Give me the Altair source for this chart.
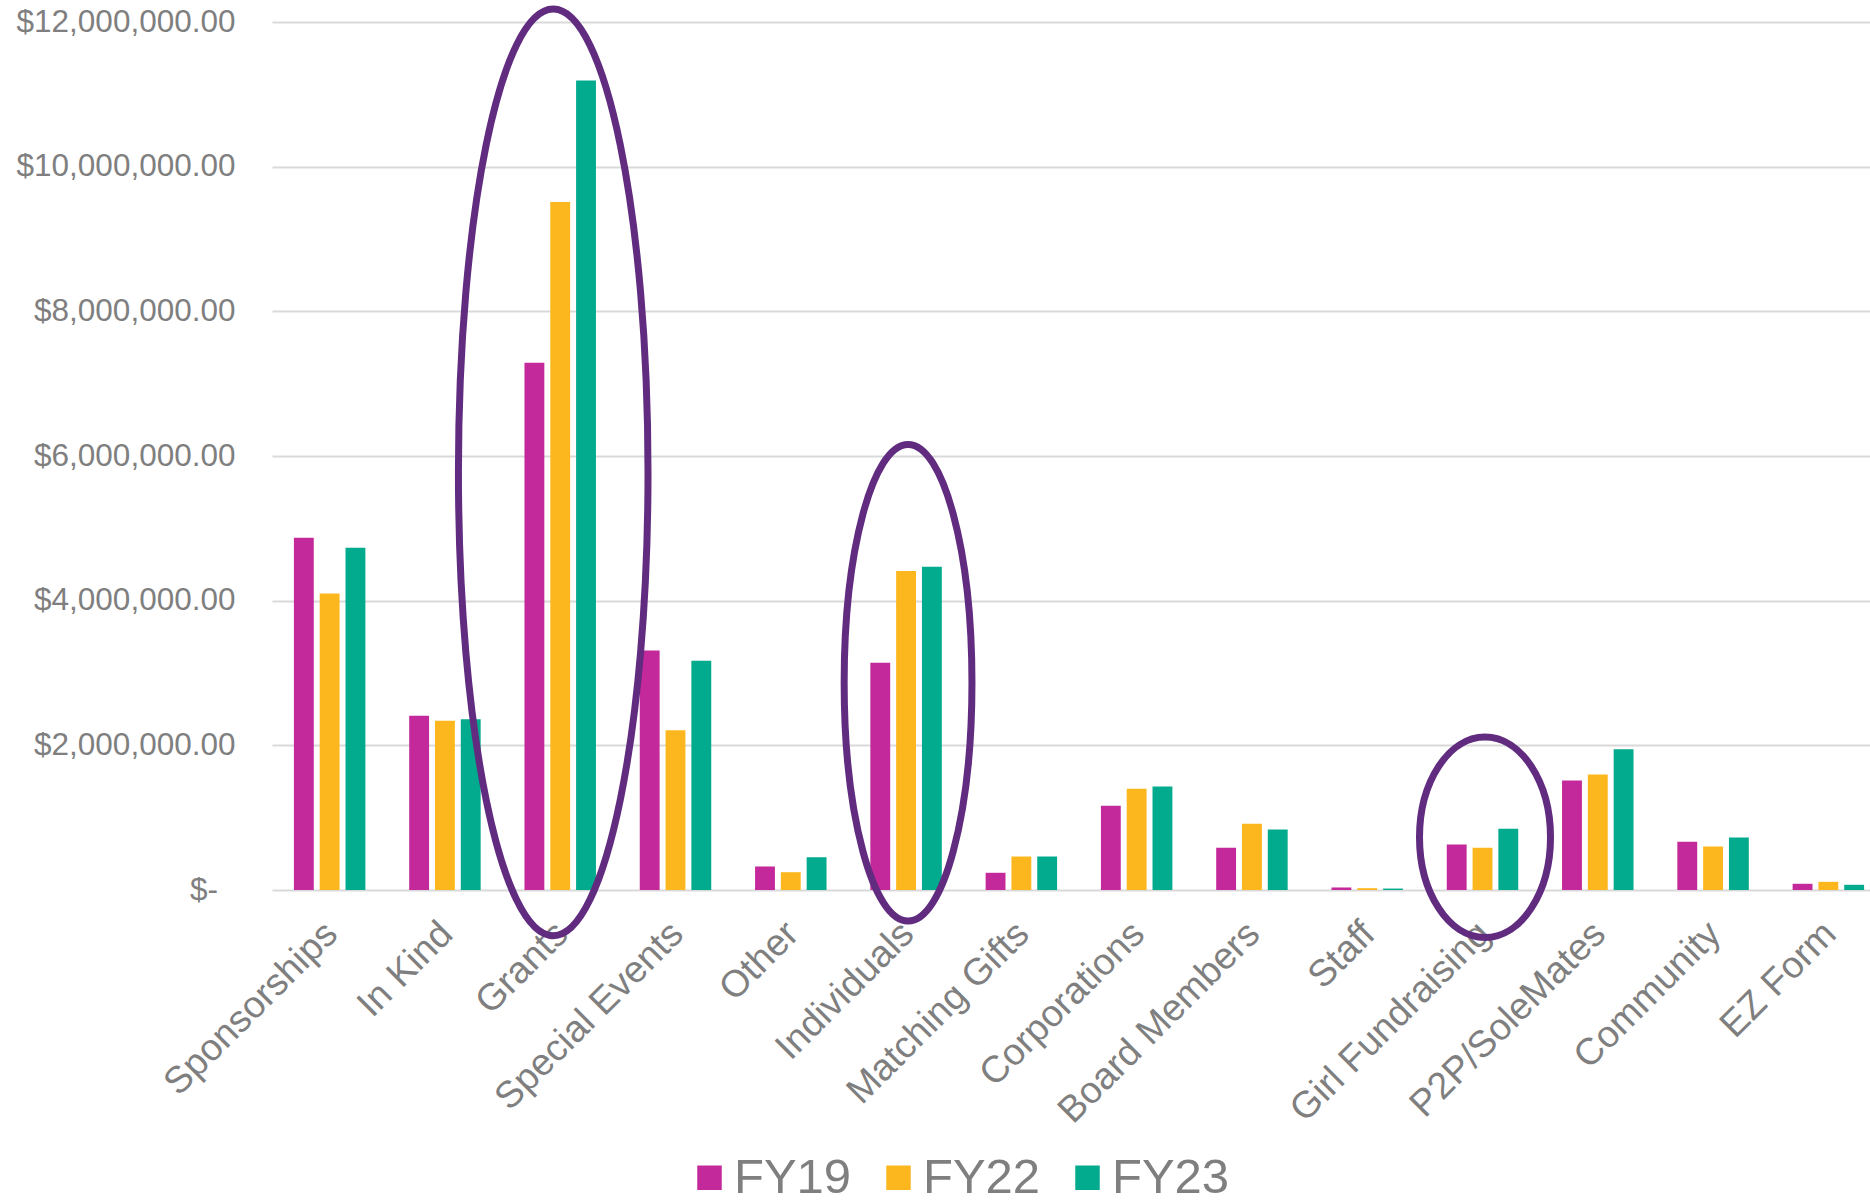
import altair as alt
import pandas as pd

# Funding sources by fiscal year (USD)
categories = [
    "Sponsorships", "In Kind", "Grants", "Special Events", "Other", "Individuals",
    "Matching Gifts", "Corporations", "Board Members", "Staff", "Girl Fundraising",
    "P2P/SoleMates", "Community", "EZ Form",
]
years = ["FY19", "FY22", "FY23"]
fy19 = [4870000, 2410000, 7290000, 3310000, 325000, 3140000, 238000,
        1164000, 583000, 35000, 629000, 1513000, 666000, 86000]
fy22 = [4100000, 2340000, 9510000, 2210000, 246000, 4410000, 463000,
        1399000, 917000, 25000, 583000, 1596000, 601000, 113000]
fy23 = [4730000, 2360000, 11190000, 3170000, 453000, 4470000, 463000,
        1431000, 838000, 20000, 846000, 1946000, 726000, 72000]
y_ticks = [0, 2000000, 4000000, 6000000, 8000000, 10000000, 12000000]

rows = []
for i, cat in enumerate(categories):
    for yr, series in zip(years, [fy19, fy22, fy23]):
        rows.append({"category": cat, "year": yr, "amount": series[i]})
df = pd.DataFrame(rows)

FONT = "Liberation Sans"
GRAY = "#7f7f7f"
COLORS = ["#C4299B", "#FDB71E", "#02AB8E"]
PURPLE = "#612C80"

PLOT_W, PLOT_H = 1598, 868

x_scale = alt.Scale(domain=categories, range=[0, 1614], paddingInner=0.38, paddingOuter=0.19)
off_scale = alt.Scale(domain=years, paddingInner=0.23, paddingOuter=0)
y_scale = alt.Scale(domain=[0, 12000000], nice=False)

x_axis = alt.Axis(
    title=None, labelAngle=-45, labelAlign="right", labelBaseline="middle",
    labelFont=FONT, labelFontSize=37.5, labelColor=GRAY, labelPadding=38,
    labelOffset=2, labelLimit=1000, labelOverlap=False,
    domain=False, ticks=False, tickSize=0, grid=False,
)
# accounting-style zero label keeps its dash short of the column edge
y_axis = alt.Axis(
    title=None, values=y_ticks,
    labelExpr="datum.value == 0 ? '$-\u00a0\u00a0\u200b' : '$' + format(datum.value, ',.2f')",
    labelFont=FONT, labelFontSize=31.5, labelColor=GRAY, labelPadding=37,
    labelLimit=1000, labelOverlap=False, domain=False, ticks=False, tickSize=0,
    grid=True, gridColor="#d9d9d9", gridWidth=2,
)

x_enc = alt.X("category:N", scale=x_scale, sort=categories, axis=x_axis)
off_enc = alt.XOffset("year:N", scale=off_scale, sort=years)
y_enc = alt.Y("amount:Q", scale=y_scale, axis=y_axis)

bars = alt.Chart(df).mark_bar().encode(
    x=x_enc,
    xOffset=off_enc,
    y=y_enc,
    color=alt.Color(
        "year:N",
        scale=alt.Scale(domain=years, range=COLORS),
        legend=alt.Legend(
            title=None, orient="none", legendX=413, legendY=1131,
            direction="horizontal", symbolType="square", symbolSize=600,
            symbolStrokeWidth=0, labelFont=FONT, labelFontSize=49,
            labelColor=GRAY, labelOffset=0, columnPadding=22, padding=0,
        ),
    ),
)


def ellipse_path(rx, ry, shift):
    """Closed ellipse outline in units of ry, moved sideways by shift px."""
    k = 0.5523
    a = rx / ry
    s = shift / ry

    def p(x, y):
        return f"{x + s:.4f},{y:.4f}"

    return (
        f"M{p(0, -1)} C{p(k * a, -1)} {p(a, -k)} {p(a, 0)} "
        f"C{p(a, k)} {p(k * a, 1)} {p(0, 1)} "
        f"C{p(-k * a, 1)} {p(-a, k)} {p(-a, 0)} "
        f"C{p(-a, -k)} {p(-k * a, -1)} {p(0, -1)} Z"
    )


# Highlight rings: (category, centre amount, half width px, half height px, shift px)
highlights = [
    ("Grants", 5774000, 94.8, 463.3, -7),
    ("Individuals", 2865000, 63.9, 238.3, 2),
    ("Girl Fundraising", 729000, 65.5, 100.3, 2.5),
]

rings = []
for cat, centre, rx, ry, shift in highlights:
    ring_df = pd.DataFrame({"category": [cat], "year": ["FY22"], "amount": [centre]})
    rings.append(
        alt.Chart(ring_df).mark_point(
            shape=ellipse_path(rx, ry, shift), size=(2 * ry) ** 2, filled=False,
            stroke=PURPLE, strokeWidth=7, opacity=1,
        ).encode(x=x_enc, xOffset=off_enc, y=y_enc)
    )

chart = alt.layer(bars, *rings).properties(
    width=PLOT_W,
    height=PLOT_H,
    autosize=alt.AutoSizeParams(type="none"),
    padding={"left": 272, "top": 22, "right": 0, "bottom": 312},
).configure(font=FONT).configure_view(stroke=None)

chart.save("out.html", embed_options={"renderer": "svg", "actions": False})
